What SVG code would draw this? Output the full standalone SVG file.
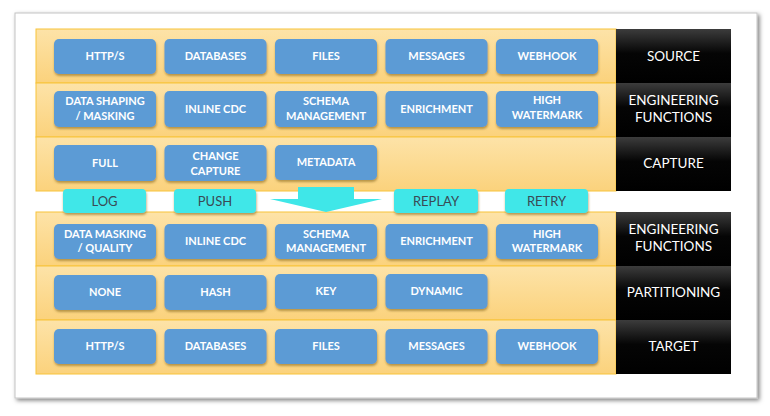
<svg xmlns="http://www.w3.org/2000/svg" width="770" height="416" viewBox="0 0 770 416">
<defs>
<linearGradient id="band" x1="0" y1="0" x2="0" y2="1">
<stop offset="0" stop-color="#FDE3A8"/>
<stop offset="1" stop-color="#FBD27C"/>
</linearGradient>
<linearGradient id="blk" x1="0" y1="0" x2="0" y2="1">
<stop offset="0" stop-color="#3c3c3c"/>
<stop offset="0.45" stop-color="#050505"/>
<stop offset="1" stop-color="#000"/>
</linearGradient>
<filter id="sh" x="-10%" y="-10%" width="125%" height="140%">
<feDropShadow dx="0.5" dy="2" stdDeviation="1.3" flood-color="#8a6a20" flood-opacity="0.6"/>
</filter>
<filter id="csh" x="-5%" y="-5%" width="110%" height="110%">
<feDropShadow dx="2" dy="2" stdDeviation="2.2" flood-color="#000" flood-opacity="0.5"/>
</filter>
<style>
.band{fill:url(#band);stroke:#F8C43A;stroke-width:1}
.blk{fill:url(#blk)}
.bl{fill:#5B9BD5;filter:url(#sh)}
.cy{fill:#3FE7E8;filter:url(#sh)}
.bt{font-family:Lato,"Open Sans",sans-serif;font-weight:bold;font-size:11px;fill:#fff;text-anchor:middle}
.lt{font-family:Lato,"Open Sans",sans-serif;font-size:13.5px;fill:#fff;text-anchor:middle}
.ct{font-family:Lato,"Open Sans",sans-serif;font-size:13px;fill:#3a4a55;text-anchor:middle}
</style>
</defs>
<rect width="770" height="416" fill="#fff"/>
<rect x="15" y="13" width="742" height="385" fill="#fff" stroke="#c4c4c4" stroke-width="1" filter="url(#csh)"/>

<g id="bands">
<rect class="band" x="36" y="29" width="580" height="54"/>
<rect class="band" x="36" y="83" width="580" height="54"/>
<rect class="band" x="36" y="137" width="580" height="54"/>
<rect class="band" x="36" y="212" width="580" height="54"/>
<rect class="band" x="36" y="266" width="580" height="54"/>
<rect class="band" x="36" y="320" width="580" height="54"/>
</g>

<g id="labels">
<g id="lbl-source"><rect class="blk" x="616" y="29" width="115" height="54"/><text class="lt" x="673.5" y="60.5">SOURCE</text></g>
<g id="lbl-eng1"><rect class="blk" x="616" y="83" width="115" height="54"/><text class="lt" x="673.5" y="105">ENGINEERING</text><text class="lt" x="673.5" y="122">FUNCTIONS</text></g>
<g id="lbl-capture"><rect class="blk" x="616" y="137" width="115" height="54"/><text class="lt" x="673.5" y="168">CAPTURE</text></g>
<g id="lbl-eng2"><rect class="blk" x="616" y="212" width="115" height="54"/><text class="lt" x="673.5" y="234">ENGINEERING</text><text class="lt" x="673.5" y="251">FUNCTIONS</text></g>
<g id="lbl-part"><rect class="blk" x="616" y="266" width="115" height="54"/><text class="lt" x="673.5" y="297">PARTITIONING</text></g>
<g id="lbl-target"><rect class="blk" x="616" y="320" width="115" height="54"/><text class="lt" x="673.5" y="351">TARGET</text></g>
</g>

<g id="row-source">
<g id="s1"><rect class="bl" x="54" y="39" width="102" height="35" rx="5"/><text class="bt" x="105" y="60">HTTP/S</text></g>
<g id="s2"><rect class="bl" x="164.5" y="39" width="102" height="35" rx="5"/><text class="bt" x="215.5" y="60">DATABASES</text></g>
<g id="s3"><rect class="bl" x="275" y="39" width="102" height="35" rx="5"/><text class="bt" x="326" y="60">FILES</text></g>
<g id="s4"><rect class="bl" x="385.5" y="39" width="102" height="35" rx="5"/><text class="bt" x="436.5" y="60">MESSAGES</text></g>
<g id="s5"><rect class="bl" x="496" y="39" width="102" height="35" rx="5"/><text class="bt" x="547" y="60">WEBHOOK</text></g>
</g>

<g id="row-eng1">
<g id="e1"><rect class="bl" x="54" y="91" width="102" height="36" rx="5"/><text class="bt" x="105" y="105">DATA SHAPING</text><text class="bt" x="105" y="119.5">/ MASKING</text></g>
<g id="e2"><rect class="bl" x="164.5" y="91" width="102" height="36" rx="5"/><text class="bt" x="215.5" y="112.5">INLINE CDC</text></g>
<g id="e3"><rect class="bl" x="275" y="91" width="102" height="36" rx="5"/><text class="bt" x="326" y="105">SCHEMA</text><text class="bt" x="326" y="119.5">MANAGEMENT</text></g>
<g id="e4"><rect class="bl" x="385.5" y="91" width="102" height="36" rx="5"/><text class="bt" x="436.5" y="112.5">ENRICHMENT</text></g>
<g id="e5"><rect class="bl" x="496" y="91" width="102" height="36" rx="5"/><text class="bt" x="547" y="104">HIGH</text><text class="bt" x="547" y="118.5">WATERMARK</text></g>
</g>

<g id="row-capture">
<g id="c1"><rect class="bl" x="54" y="145" width="102" height="36" rx="5"/><text class="bt" x="105" y="167">FULL</text></g>
<g id="c2"><rect class="bl" x="164.5" y="145" width="102" height="36" rx="5"/><text class="bt" x="215.5" y="160">CHANGE</text><text class="bt" x="215.5" y="174.5">CAPTURE</text></g>
<g id="c3"><rect class="bl" x="275" y="145" width="102" height="35" rx="5"/><text class="bt" x="326" y="166">METADATA</text></g>
</g>

<g id="connectors">
<path d="M298 187 H354 V199 H382 L326 212 L270 199 H298 Z" fill="#3FE7E8"/>
</g>

<g id="row-mid">
<g id="m1"><rect class="cy" x="63" y="189" width="83" height="24" rx="4"/><text class="ct" x="104.5" y="205.5">LOG</text></g>
<g id="m2"><rect class="cy" x="174" y="189" width="82" height="24" rx="4"/><text class="ct" x="215" y="205.5">PUSH</text></g>
<g id="m3"><rect class="cy" x="394" y="189" width="84" height="24" rx="4"/><text class="ct" x="436" y="205.5">REPLAY</text></g>
<g id="m4"><rect class="cy" x="505" y="189" width="83" height="24" rx="4"/><text class="ct" x="546.5" y="205.5">RETRY</text></g>
</g>

<g id="row-eng2">
<g id="f1"><rect class="bl" x="54" y="224" width="102" height="35" rx="5"/><text class="bt" x="105" y="237.5">DATA MASKING</text><text class="bt" x="105" y="252">/ QUALITY</text></g>
<g id="f2"><rect class="bl" x="164.5" y="224" width="102" height="35" rx="5"/><text class="bt" x="215.5" y="244.5">INLINE CDC</text></g>
<g id="f3"><rect class="bl" x="275" y="224" width="102" height="35" rx="5"/><text class="bt" x="326" y="237.5">SCHEMA</text><text class="bt" x="326" y="252">MANAGEMENT</text></g>
<g id="f4"><rect class="bl" x="385.5" y="224" width="102" height="35" rx="5"/><text class="bt" x="436.5" y="244.5">ENRICHMENT</text></g>
<g id="f5"><rect class="bl" x="496" y="224" width="102" height="35" rx="5"/><text class="bt" x="547" y="237.5">HIGH</text><text class="bt" x="547" y="252">WATERMARK</text></g>
</g>

<g id="row-part">
<g id="p1"><rect class="bl" x="54" y="275" width="102" height="35" rx="5"/><text class="bt" x="105" y="296">NONE</text></g>
<g id="p2"><rect class="bl" x="164.5" y="275" width="102" height="35" rx="5"/><text class="bt" x="215.5" y="296">HASH</text></g>
<g id="p3"><rect class="bl" x="275" y="274" width="102" height="35" rx="5"/><text class="bt" x="326" y="295">KEY</text></g>
<g id="p4"><rect class="bl" x="385.5" y="274" width="102" height="35" rx="5"/><text class="bt" x="436.5" y="295">DYNAMIC</text></g>
</g>

<g id="row-target">
<g id="t1"><rect class="bl" x="54" y="329" width="102" height="35" rx="5"/><text class="bt" x="105" y="350">HTTP/S</text></g>
<g id="t2"><rect class="bl" x="164.5" y="329" width="102" height="35" rx="5"/><text class="bt" x="215.5" y="350">DATABASES</text></g>
<g id="t3"><rect class="bl" x="275" y="329" width="102" height="35" rx="5"/><text class="bt" x="326" y="350">FILES</text></g>
<g id="t4"><rect class="bl" x="385.5" y="329" width="102" height="35" rx="5"/><text class="bt" x="436.5" y="350">MESSAGES</text></g>
<g id="t5"><rect class="bl" x="496" y="329" width="102" height="35" rx="5"/><text class="bt" x="547" y="350">WEBHOOK</text></g>
</g>
</svg>
